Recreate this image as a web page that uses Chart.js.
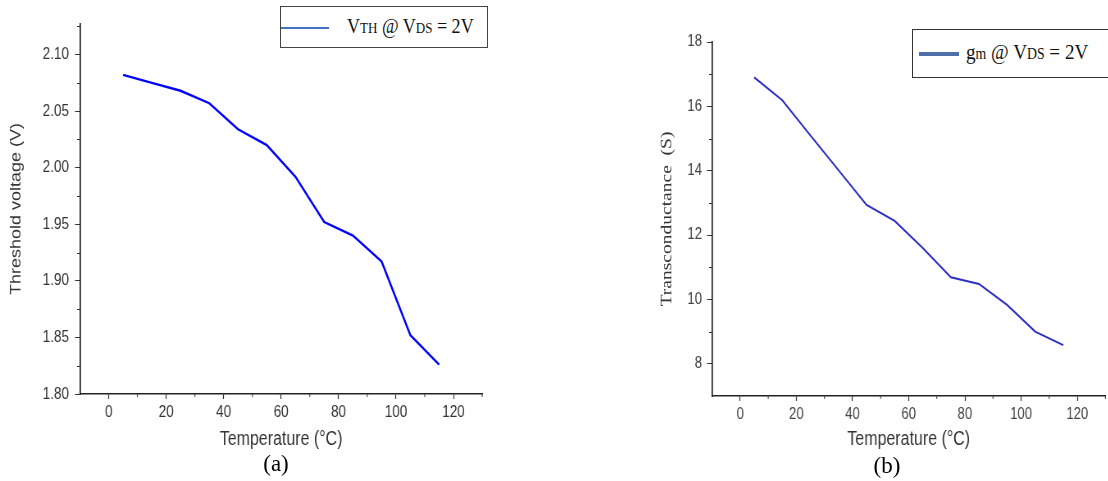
<!DOCTYPE html>
<html>
<head>
<meta charset="utf-8">
<script src="https://cdn.jsdelivr.net/npm/chart.js@4/dist/chart.umd.min.js"></script>
<style>
  html, body { margin:0; padding:0; background:#fff; }
  body { width:1108px; height:481px; position:relative; overflow:hidden; }
  /* la figura original esta comprimida en horizontal: se dibuja ancho y se comprime */
  .wrap { position:absolute; top:0; transform:scaleX(0.82); transform-origin:0 0; }
  #wA { left:0; }
  #wB { left:600px; }
  .leg { position:absolute; box-sizing:border-box; background:#fff; }
  .leg .ln { position:absolute; }
  .leg .tx { position:absolute; white-space:nowrap; font-family:"Liberation Serif","Times New Roman",serif; color:#111; transform-origin:0 50%; }
  .leg .tx small { font-size:0.72em; }
  .cap { position:absolute; font-family:"Liberation Serif","Times New Roman",serif; font-size:23px; color:#000; transform:translateX(-50%); }
</style>
</head>
<body>
<div class="wrap" id="wA"><canvas id="cA" width="610" height="481"></canvas></div>
<div class="wrap" id="wB"><canvas id="cB" width="620" height="481"></canvas></div>

<div class="leg" id="legA" style="left:280px;top:6px;width:208px;height:42px;border:1px solid #444;">
  <div class="ln" style="left:0;top:20px;width:48px;height:2px;background:#4472c4;"></div>
  <div class="tx" style="left:66px;top:7px;font-size:21px;line-height:24px;transform:scaleX(0.86);">V<small>TH</small> @ V<small>DS</small> = 2V</div>
</div>
<div class="leg" id="legB" style="left:912px;top:29px;width:210px;height:49px;border:1.5px solid #333;">
  <div class="ln" style="left:6px;top:22px;width:40px;height:3.5px;background:#4f6fa8;"></div>
  <div class="tx" style="left:53px;top:9px;font-size:22px;line-height:26px;transform:scaleX(0.87);">g<small>m</small> @ V<small>DS</small> = 2V</div>
</div>
<div class="cap" style="left:276px;top:451px;">(a)</div>
<div class="cap" style="left:887px;top:453px;">(b)</div>

<script>
/* datos */
const TEMP = [5, 15, 25, 35, 45, 55, 65, 75, 85, 95, 105, 115];
const VTH  = [2.082, 2.075, 2.068, 2.057, 2.034, 2.020, 1.992, 1.952, 1.940, 1.917, 1.852, 1.826];
const GM   = [16.90, 16.19, 15.10, 14.02, 12.94, 12.44, 11.60, 10.69, 10.48, 9.83, 9.00, 8.58];

const X_TICKS  = [0, 20, 40, 60, 80, 100, 120];
const X_MINOR  = [10, 30, 50, 70, 90, 110, 130];
const YA_TICKS = [1.80, 1.85, 1.90, 1.95, 2.00, 2.05, 2.10];
const YA_MINOR = [1.825, 1.875, 1.925, 1.975, 2.025, 2.075, 2.125];
const YB_TICKS = [8, 10, 12, 14, 16, 18];
const YB_MINOR = [9, 11, 13, 15, 17];

const K = 0.82;   // compresion horizontal (igual que en .wrap)
const SANS = "'Liberation Sans',Arial,sans-serif";

/* ticks menores */
const minorTicks = {
  id: "minorTicks",
  afterDraw(chart, args, opts) {
    const ctx = chart.ctx, a = chart.chartArea;
    const sx = chart.scales.x, sy = chart.scales.y;
    ctx.save();
    ctx.strokeStyle = opts.color || "#333";
    ctx.lineWidth = 1;
    ctx.beginPath();
    (opts.x || []).forEach(v => {
      const p = sx.getPixelForValue(v);
      ctx.moveTo(p, a.bottom); ctx.lineTo(p, a.bottom + 3);
    });
    (opts.y || []).forEach(v => {
      const p = Math.round(sy.getPixelForValue(v)) + 0.5;
      ctx.moveTo(a.left - 3 / K, p); ctx.lineTo(a.left, p);
    });
    ctx.stroke();
    ctx.restore();
  }
};

function puntos(ys) { return TEMP.map((t, i) => ({ x: t, y: ys[i] })); }

function grafico(id, cfg) {
  return new Chart(document.getElementById(id), {
    type: "line",
    data: { datasets: [{ data: puntos(cfg.data), borderColor: cfg.color, borderWidth: cfg.width, pointRadius: 0, tension: 0, fill: false }] },
    options: {
      responsive: false, animation: false, events: [],
      layout: { padding: cfg.pad },
      plugins: { legend: { display: false }, tooltip: { enabled: false },
        minorTicks: { x: X_MINOR, y: cfg.minor, color: "#333" } },
      scales: {
        x: {
          type: "linear", min: -10, max: 130,
          afterBuildTicks: s => { s.ticks = X_TICKS.map(v => ({ value: v })); },
          afterFit: s => { s.height = cfg.xh; },
          grid: { drawOnChartArea: false, drawTicks: true, tickLength: 5, tickColor: "#333", tickWidth: 1.2 },
          border: { display: true, color: "#222", width: 1.4 },
          ticks: { color: cfg.tickColor, padding: 4, maxRotation: 0, font: { family: SANS, size: cfg.tickSize } },
          title: { display: true, text: "Temperature (°C)", color: "#333", padding: { top: 0, bottom: cfg.xtPad }, font: { family: SANS, size: 19.5 } }
        },
        y: {
          type: "linear", min: cfg.ymin, max: cfg.ymax,
          afterBuildTicks: s => { s.ticks = cfg.yticks.map(v => ({ value: v })); },
          afterFit: s => { s.width = cfg.yw / K; },
          grid: { drawOnChartArea: false, drawTicks: true, tickLength: 5 / K, tickColor: "#333" },
          border: { display: true, color: "#222", width: 1.4 / K },
          ticks: { color: cfg.tickColor, padding: cfg.ytickPad / K, font: { family: SANS, size: cfg.tickSize }, callback: cfg.fmt },
          title: { display: true, text: cfg.ytitle, color: "#333", padding: { top: cfg.ytPad, bottom: 0 }, font: cfg.ytFont }
        }
      }
    },
    plugins: [minorTicks]
  });
}

grafico("cA", {
  data: VTH, color: "#0000ff", width: 2.4,
  pad: { left: 0, top: 24, right: 18 / K, bottom: 0 },
  xh: 87, yw: 80, xtPad: 30,
  ymin: 1.80, ymax: 2.127, yticks: YA_TICKS, minor: YA_MINOR,
  fmt: v => v.toFixed(2),
  tickColor: "#333", tickSize: 16.5, ytickPad: 6,
  ytitle: "Threshold voltage (V)", ytPad: 9.3,
  ytFont: { family: SANS, size: 18 }
});

grafico("cB", {
  data: GM, color: "#2e2ec4", width: 2,
  pad: { left: 0, top: 42, right: 3 / K, bottom: 0 },
  xh: 85, yw: 112, xtPad: 30,
  ymin: 7, ymax: 18, yticks: YB_TICKS, minor: YB_MINOR,
  fmt: v => String(v),
  tickColor: "#444", tickSize: 16, ytickPad: 5,
  ytitle: "Transconductance  (S)", ytPad: 70.5,
  ytFont: { family: "'Liberation Serif','Times New Roman',serif", size: 19.5 }
});
</script>
</body>
</html>
